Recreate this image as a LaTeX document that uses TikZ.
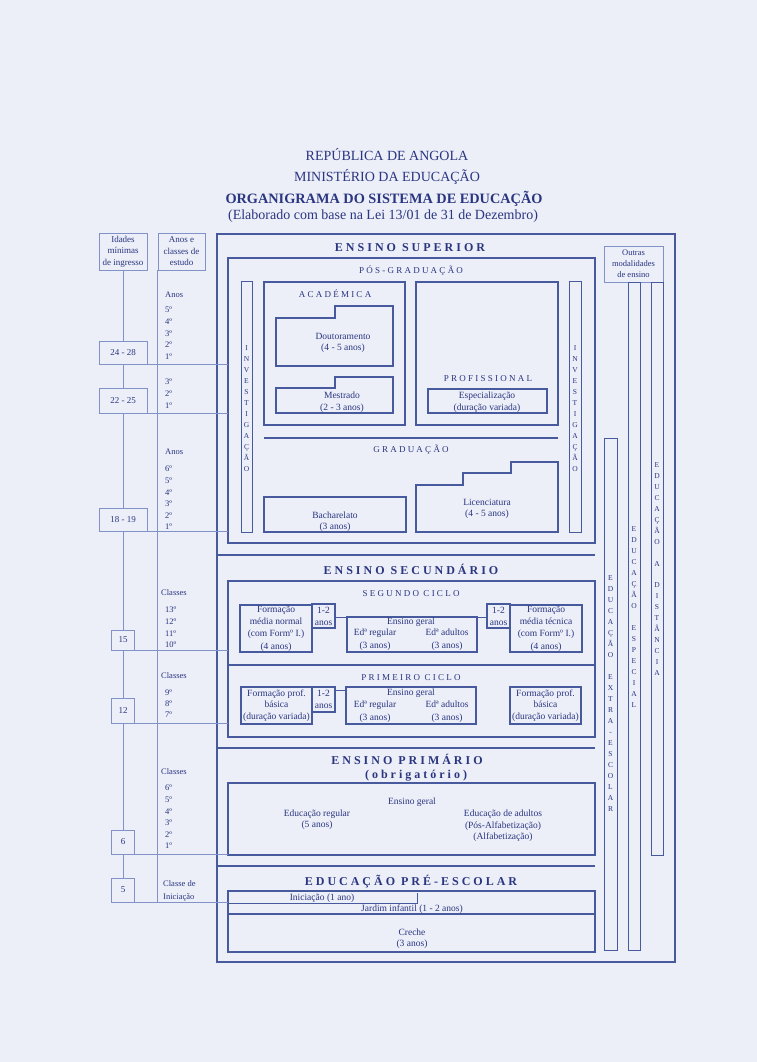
\documentclass[tikz,border=0pt]{standalone}
\usepackage{fontspec}
\setmainfont{Liberation Serif}
\newfontfamily\spacedfont[LetterSpace=25]{Liberation Serif}
\definecolor{paper}{RGB}{236,238,248}
\definecolor{ink}{RGB}{42,54,128}
\definecolor{rule}{RGB}{72,90,158}
\definecolor{guideblue}{RGB}{128,146,200}
\tikzset{
  frame/.style={draw=rule,line width=2.4pt},
  box/.style={draw=rule,line width=2pt},
  subbox/.style={draw=rule,line width=1.5pt},
  thinbox/.style={draw=rule,line width=1pt},
  guide/.style={draw=guideblue,line width=0.8pt},
  txt/.style={text=ink,inner sep=0pt,align=center,font=\fontsize{9.5}{11.5}\selectfont},
  head/.style={text=ink,inner sep=0pt,anchor=base,font=\spacedfont\bfseries\fontsize{12}{14}\selectfont},
  subhead/.style={text=ink,inner sep=0pt,anchor=base,font=\spacedfont\fontsize{9}{11}\selectfont},
  titl/.style={text=ink,inner sep=0pt,anchor=base,font=\fontsize{14}{16}\selectfont},
  vlet/.style={text=ink,inner sep=0pt,anchor=base,font=\fontsize{7.5}{8}\selectfont},
  yr/.style={text=ink,inner sep=0pt,anchor=west,font=\fontsize{8.5}{10}\selectfont},
  agebox/.style={guide,fill=paper,text=ink,inner sep=0pt,align=center,font=\fontsize{9}{11.5}\selectfont},
}
\begin{document}
\begin{tikzpicture}[x=1pt,y=-1pt,line join=miter]
\fill[paper] (0,0) rectangle (757,1062);
% titles
\node[titl] (rep) at (387,160) {REPÚBLICA DE ANGOLA};
\node[titl] (min) at (387,181) {MINISTÉRIO DA EDUCAÇÃO};
\node[titl,font=\bfseries\fontsize{14.3}{16}\selectfont] (org) at (384,203) {ORGANIGRAMA DO SISTEMA DE EDUCAÇÃO};
\node[titl] (lei) at (383,219) {(Elaborado com base na Lei 13/01 de 31 de Dezembro)};

% outer frame and section rules
\draw[frame] (217,234) rectangle (675,962);
\foreach \y in {555,748,866} \draw[frame] (217,\y) -- (595,\y);
\path (228,0) coordinate (edge);

% ensino superior
\node[head] (sup) at (410,251) {ENSINO SUPERIOR};
\draw[box] (228,258) rectangle (595,543);
\node[subhead] (pos) at (411,273) {PÓS-GRADUAÇÃO};
\draw[thinbox] (241,281) rectangle (252,532) (569,281) rectangle (581,532);
\foreach \c [count=\i] in {I,N,V,E,S,T,I,G,A,Ç,Ã,O}{
  \node[vlet] (invl\i) at (246.5,339+11*\i) {\c};
  \node[vlet] (invr\i) at (575,339+11*\i) {\c};
}
\draw[subbox] (264,282) rectangle (405,425) (416,282) rectangle (558,425);
\node[subhead] (acad) at (335,297) {ACADÉMICA};
\node[subhead] (prof) at (488,381) {PROFISSIONAL};
\draw[subbox] (276,318) -- (335,318) -- (335,306) -- (393,306) -- (393,366) -- (276,366) -- cycle;
\draw[subbox] (276,388) -- (335,388) -- (335,377) -- (393,377) -- (393,413) -- (276,413) -- cycle;
\draw[subbox] (428,389) rectangle (547,413);
\node[txt] (dout) at (343,343) {Doutoramento\\(4 - 5 anos)};
\node[txt] (mest) at (342,402) {Mestrado\\(2 - 3 anos)};
\node[txt] (espe) at (487,402) {Especialização\\(duração variada)};
\draw[subbox] (264,438) -- (558,438);
\node[subhead] (grad) at (411,452) {GRADUAÇÃO};
\draw[subbox] (264,497) rectangle (406,532);
\draw[subbox] (416,485) -- (463,485) -- (463,473) -- (511,473) -- (511,462) -- (558,462) -- (558,532) -- (416,532) -- cycle;
\node[txt] (bach) at (335,521.5) {Bacharelato\\(3 anos)};
\node[txt] (lice) at (487,509) {Licenciatura\\(4 - 5 anos)};

% ensino secundario
\node[head] (sec) at (411,574) {ENSINO SECUNDÁRIO};
\draw[box] (228,581) rectangle (595,737);
\draw[subbox] (228,665) -- (595,665);
\node[subhead] (seg) at (411,596) {SEGUNDO CICLO};
\draw[subbox] (240,605) rectangle (312,652) (312,604) rectangle (335,628);
\draw[subbox] (347,617) rectangle (477,652) (487,604) rectangle (510,628) (510,605) rectangle (582,652);
\draw[thinbox] (335,617) -- (347,617) (477,617) -- (487,617);
\node[txt,font=\fontsize{9.5}{12.3}\selectfont] (fmn) at (276,628.5) {Formação\\média normal\\(com Formº I.)\\(4 anos)};
\node[txt,font=\fontsize{9.5}{12.3}\selectfont] (fmt) at (546,628.5) {Formação\\média técnica\\(com Formº I.)\\(4 anos)};
\node[txt] (amn) at (323.5,616.5) {1-2\\anos};
\node[txt] (amt) at (498.5,616.5) {1-2\\anos};
\node[txt] (eg2) at (411,622) {Ensino geral};
\node[txt,font=\fontsize{9.5}{13}\selectfont] (er2) at (375,640) {Edª regular\\(3 anos)};
\node[txt,font=\fontsize{9.5}{13}\selectfont] (ea2) at (447,640) {Edª adultos\\(3 anos)};
\node[subhead] (pri) at (411,680) {PRIMEIRO CICLO};
\draw[subbox] (241,687) rectangle (312,724) (312,687) rectangle (335,712);
\draw[subbox] (346,687) rectangle (476,724) (510,687) rectangle (581,724);
\draw[thinbox] (335,690) -- (346,690);
\node[txt] (fpb1) at (276.5,705.5) {Formação prof.\\básica\\(duração variada)};
\node[txt] (fpb2) at (545.5,705.5) {Formação prof.\\básica\\(duração variada)};
\node[txt] (apb) at (323.5,699.5) {1-2\\anos};
\node[txt] (eg1) at (411,693) {Ensino geral};
\node[txt,font=\fontsize{9.5}{13}\selectfont] (er1) at (375,711.5) {Edª regular\\(3 anos)};
\node[txt,font=\fontsize{9.5}{13}\selectfont] (ea1) at (447,711.5) {Edª adultos\\(3 anos)};

% ensino primario
\node[head] (prim) at (407,764) {ENSINO PRIMÁRIO};
\node[head] (obr) at (416,778) {(obrigatório)};
\draw[box] (228,783) rectangle (595,855);
\node[txt] (egp) at (412,802) {Ensino geral};
\node[txt] (edr) at (317,819.5) {Educação regular\\(5 anos)};
\node[txt] (eda) at (503,826) {Educação de adultos\\(Pós-Alfabetização)\\(Alfabetização)};

% educacao pre-escolar
\node[head] (pre) at (411,885) {EDUCAÇÃO PRÉ-ESCOLAR};
\draw[box] (228,891) rectangle (595,952);
\draw[thinbox] (228,903) -- (417,903) -- (417,893);
\draw[subbox] (228,914) -- (595,914);
\node[txt] (ini) at (322,898) {Iniciação (1 ano)};
\node[txt] (jar) at (412,909) {Jardim infantil (1 - 2 anos)};
\node[txt] (cre) at (412,938.5) {Creche\\(3 anos)};

% outras modalidades
\node[agebox,minimum width=59,minimum height=36,font=\fontsize{8.5}{11}\selectfont] (outras) at (633.5,264) {Outras\\modalidades\\de ensino};
\draw[thinbox] (604,438) rectangle (617,950) (628,282) rectangle (640,950) (651,282) rectangle (663,855);
\foreach \c [count=\i] in {E,D,U,C,A,Ç,Ã,O,{},E,X,T,R,A,-,E,S,C,O,L,A,R}
  \node[vlet] (ext\i) at (610.5,569+11*\i) {\c};
\foreach \c [count=\i] in {E,D,U,C,A,Ç,Ã,O,{},E,S,P,E,C,I,A,L}
  \node[vlet] (esp\i) at (634,520+11*\i) {\c};
\foreach \c [count=\i] in {E,D,U,C,A,Ç,Ã,O,{},A,{},D,I,S,T,Â,N,C,I,A}
  \node[vlet] (dis\i) at (657,457+10.9*\i) {\c};

% idades e anos
\node[agebox,minimum width=48,minimum height=37] (idades) at (123,251.5) {Idades\\mínimas\\de ingresso};
\node[agebox,minimum width=47,minimum height=37] (anos) at (181.5,251.5) {Anos e\\classes de\\estudo};
\node[agebox,minimum width=48,minimum height=23] (a1) at (123,352.5) {24 - 28};
\node[agebox,minimum width=48,minimum height=25] (a2) at (123,400.5) {22 - 25};
\node[agebox,minimum width=48,minimum height=23] (a3) at (123,519.5) {18 - 19};
\node[agebox,minimum width=23,minimum height=20] (a4) at (123,640) {15};
\node[agebox,minimum width=23,minimum height=25] (a5) at (123,710.5) {12};
\node[agebox,minimum width=23,minimum height=24] (a6) at (123,842) {6};
\node[agebox,minimum width=23,minimum height=24] (a7) at (123,890) {5};
\foreach \a/\b in {idades/a1,a1/a2,a2/a3,a3/a4,a4/a5,a5/a6,a6/a7} \draw[guide] (\a.south) -- (\b.north);
\draw[guide] (anos.south west) -- (anos.south west |- a7.south);
\foreach \a in {a1,a2,a3,a4,a5,a6,a7} \draw[guide] (\a.south west) -- (\a.south west -| edge);

\node[yr] (t1) at (165,295) {Anos};
\foreach \n [count=\i] in {5,4,3,2,1} \node[yr] (s\n) at (165,298.3+11.7*\i) {{\n}º};
\foreach \n [count=\i] in {3,2,1} \node[yr] (m\n) at (165,370.3+11.7*\i) {{\n}º};
\node[yr] (t3) at (165,452) {Anos};
\foreach \n [count=\i] in {6,5,4,3,2,1} \node[yr] (g\n) at (165,457.4+11.6*\i) {{\n}º};
\node[yr] (t4) at (161,593) {Classes};
\foreach \n [count=\i] in {13,12,11,10} \node[yr] (c\n) at (165,598.3+11.7*\i) {{\n}º};
\node[yr] (t5) at (161,676) {Classes};
\foreach \n [count=\i] in {9,8,7} \node[yr] (c\n) at (165,681.5+11.2*\i) {{\n}º};
\node[yr] (t6) at (161,772) {Classes};
\foreach \n [count=\i] in {6,5,4,3,2,1} \node[yr] (p\n) at (165,776.4+11.6*\i) {{\n}º};
\node[yr,align=left,font=\fontsize{8.5}{13}\selectfont] (t7) at (163,890.5) {Classe de\\Iniciação};
\end{tikzpicture}
\end{document}
